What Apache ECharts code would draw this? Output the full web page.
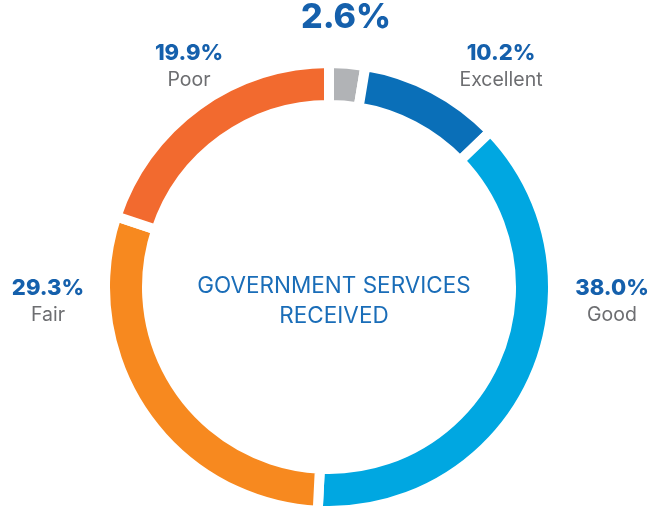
<!DOCTYPE html>
<html>
<head>
<meta charset="utf-8">
<script src="https://cdn.jsdelivr.net/npm/echarts@6/dist/echarts.min.js"></script>
<style>html,body{margin:0;padding:0;background:#fff;}#c{width:660px;height:511px;}</style>
</head>
<body>
<div id="c"></div>
<script>
var categories = ['No answer', 'Excellent', 'Good', 'Fair', 'Poor'];
var values = [2.6, 10.2, 38.0, 29.3, 19.9];
var showName = [false, true, true, true, true];
var colors = ['#B1B3B6', '#0A6FB8', '#00A7E1', '#F7891F', '#F26A2F'];
var labelPos = [[346, 18], [501, 67], [612, 302], [48, 302], [189, 67]];

var chart = echarts.init(document.getElementById('c'), null, {renderer: 'canvas'});
var FONT = 'Inter, "Open Sans", sans-serif';

var data = categories.map(function (c, i) {
  return {
    name: c,
    value: values[i],
    itemStyle: {color: colors[i]},
    label: {
      formatter: showName[i] ? '{p|' + values[i].toFixed(1) + '%}\n{n|' + c + '}' : '{big|' + values[i].toFixed(1) + '%}'
    }
  };
});

chart.setOption({
  backgroundColor: '#ffffff',
  title: {
    text: 'GOVERNMENT SERVICES\nRECEIVED',
    left: 329,
    top: 266,
    textAlign: 'center',
    textStyle: {
      color: '#1A6DB8',
      fontFamily: FONT,
      fontWeight: 'normal',
      fontSize: 22.5,
      lineHeight: 30
    }
  },
  series: [{
    type: 'pie',
    center: [329, 287],
    radius: [182, 224],
    startAngle: 90,
    clockwise: true,
    animation: false,
    silent: true,
    itemStyle: {borderColor: '#ffffff', borderWidth: 10, borderJoin: 'miter'},
    labelLine: {show: false},
    label: {
      show: true,
      position: 'outside',
      align: 'center',
      verticalAlign: 'middle',
      overflow: 'none',
      bleedMargin: 0,
      fontFamily: FONT,
      rich: {
        p: {fontFamily: FONT, fontSize: 22, fontWeight: 800, color: '#1560AC', lineHeight: 27, align: 'center'},
        n: {fontFamily: FONT, fontSize: 19.5, color: '#6D6E71', lineHeight: 27, align: 'center'},
        big: {fontFamily: FONT, fontSize: 34, fontWeight: 800, color: '#1560AC', lineHeight: 36, align: 'center'}
      }
    },
    labelLayout: function (params) {
      var p = labelPos[params.dataIndex];
      return {x: p[0], y: p[1], align: 'center', verticalAlign: 'middle', hideOverlap: false, moveOverlap: null};
    },
    data: data
  }]
});
</script>
</body>
</html>
